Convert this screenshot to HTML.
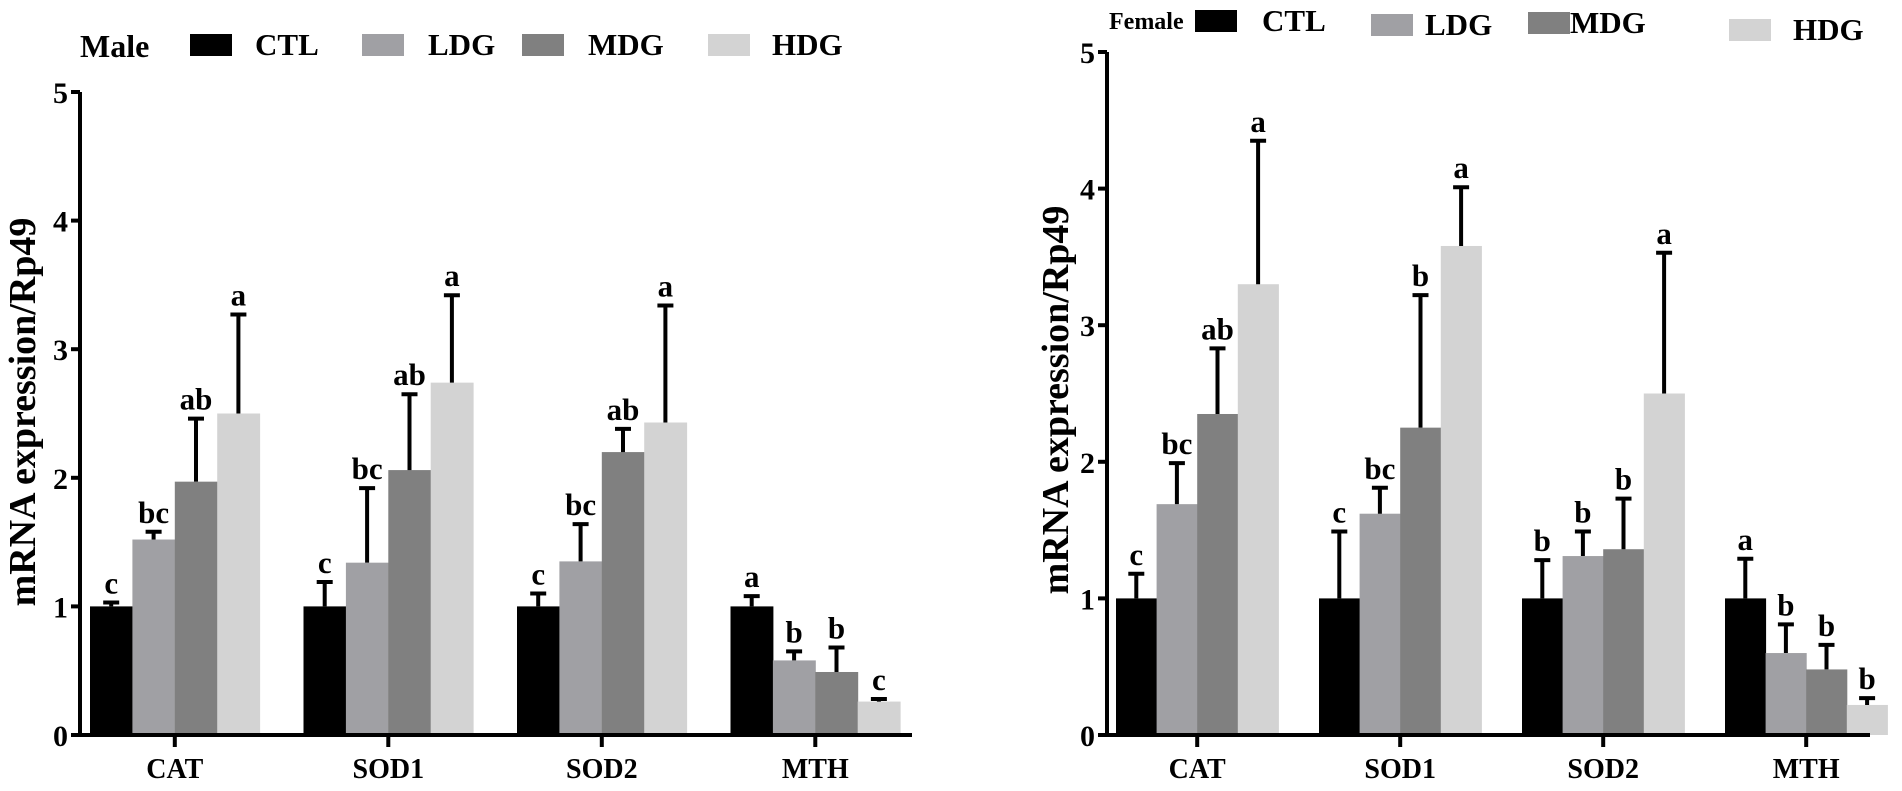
<!DOCTYPE html>
<html><head><meta charset="utf-8">
<style>
html,body{margin:0;padding:0;background:#fff;}
svg{display:block;font-family:"Liberation Serif",serif;font-weight:bold;}
</style></head>
<body>
<svg id="chart" width="1902" height="791" viewBox="0 0 1902 791" xmlns="http://www.w3.org/2000/svg"></svg>
<script>
const categories = ["CAT","SOD1","SOD2","MTH"];
const groups = ["CTL","LDG","MDG","HDG"];
const colors = ["#000000","#a0a0a4","#808080","#d3d3d3"];
const yTicks = [0,1,2,3,4,5];

const maleMeans = [[1.0,1.52,1.97,2.50],[1.0,1.34,2.06,2.74],[1.0,1.35,2.20,2.43],[1.0,0.58,0.49,0.26]];
const maleErrTop = [[1.03,1.58,2.46,3.27],[1.19,1.92,2.65,3.42],[1.10,1.64,2.38,3.34],[1.08,0.65,0.68,0.28]];
const maleLetters = [["c","bc","ab","a"],["c","bc","ab","a"],["c","bc","ab","a"],["a","b","b","c"]];

const femaleMeans = [[1.0,1.69,2.35,3.30],[1.0,1.62,2.25,3.58],[1.0,1.31,1.36,2.50],[1.0,0.60,0.48,0.22]];
const femaleErrTop = [[1.18,1.99,2.83,4.35],[1.49,1.81,3.22,4.01],[1.28,1.49,1.73,3.53],[1.29,0.81,0.66,0.27]];
const femaleLetters = [["c","bc","ab","a"],["c","bc","b","a"],["b","b","b","a"],["a","b","b","b"]];

const NS="http://www.w3.org/2000/svg";
const svg=document.getElementById("chart");
function mk(tag,attrs,parent){const e=document.createElementNS(NS,tag);for(const k in attrs)e.setAttribute(k,attrs[k]);(parent||svg).appendChild(e);return e;}

function drawPanel(cfg){
  const g=mk("g",{});
  
  
  const y=v=>cfg.y0-v*cfg.unit;
  const xBar=(ci,gi)=>cfg.start+ci*cfg.spacing+gi*cfg.barW;
  cfg.means.forEach((row,ci)=>row.forEach((v,gi)=>{
    const r=mk("rect",{x:xBar(ci,gi),y:y(v),width:cfg.barW+0.5,height:y(0)-y(v),fill:colors[gi]},g);
    
    
  }));
  cfg.means.forEach((row,ci)=>row.forEach((v,gi)=>{
    const cx=xBar(ci,gi)+cfg.barW/2, top=y(cfg.err[ci][gi]);
    const eb=mk("path",{d:`M${cx},${y(v)}V${top}M${cx-8},${top}H${cx+8}`,stroke:"#000","stroke-width":4,fill:"none"},g);
    
    
    const t=mk("text",{x:cx,y:top-9,"text-anchor":"middle","font-size":31},g);
    t.textContent=cfg.letters[ci][gi];
    
    
  }));
  const ax=mk("path",{d:`M${cfg.axisX},${y(5)}V${cfg.y0}H${cfg.axisEnd}`,stroke:"#000","stroke-width":4,fill:"none"},g);
  
  
  yTicks.forEach(v=>{
    const tk=mk("line",{x1:cfg.axisX-9,x2:cfg.axisX,y1:y(v),y2:y(v),stroke:"#000","stroke-width":4},g);
    
    
    const t=mk("text",{x:cfg.axisX-12,y:y(v)+11,"text-anchor":"end","font-size":30},g);
    t.textContent=v;
    
    
  });
  categories.forEach((c,ci)=>{
    const cx=cfg.start+ci*cfg.spacing+2*cfg.barW;
    const tk=mk("line",{x1:cx,x2:cx,y1:cfg.y0,y2:cfg.y0+12,stroke:"#000","stroke-width":4},g);
    
    
    const t=mk("text",{x:cx,y:778,"text-anchor":"middle","font-size":28},g);
    t.textContent=c;
    
    
  });
  const yt=mk("text",{x:0,y:0,"text-anchor":"middle","font-size":38,transform:`translate(${cfg.titleX},${cfg.titleY}) rotate(-90)`},g);
  yt.textContent="mRNA expression/Rp49";
  
  
  const lt=mk("text",{x:cfg.leg.title[0],y:cfg.leg.title[1],"font-size":cfg.leg.titleSize},g);
  lt.textContent=cfg.title;
  
  
  groups.forEach((gr,gi)=>{
    const L=cfg.leg.items[gi];
    const sw=mk("rect",{x:L[0],y:L[1],width:42,height:22,fill:colors[gi]},g);
    
    
    const t=mk("text",{x:L[2],y:L[1]+21,"font-size":31},g);
    t.textContent=gr;
    
    
  });
}

drawPanel({name:"male",title:"Male",means:maleMeans,err:maleErrTop,letters:maleLetters,
  y0:735,unit:128.6,start:90,spacing:213.5,barW:42.4,axisX:80,axisEnd:912,titleX:35,titleY:412,
  leg:{title:[80,57],titleSize:32,items:[[190,34,255],[362,34,428],[522,34,588],[708,34,772]]}});
drawPanel({name:"female",title:"Female",means:femaleMeans,err:femaleErrTop,letters:femaleLetters,
  y0:735,unit:136.6,start:1116,spacing:203,barW:40.6,axisX:1107,axisEnd:1870,titleX:1068,titleY:400,
  leg:{title:[1109,29],titleSize:24,items:[[1195,10,1262],[1371,14,1425],[1528,12,1570],[1729,19,1793]]}});
</script>
</body></html>
